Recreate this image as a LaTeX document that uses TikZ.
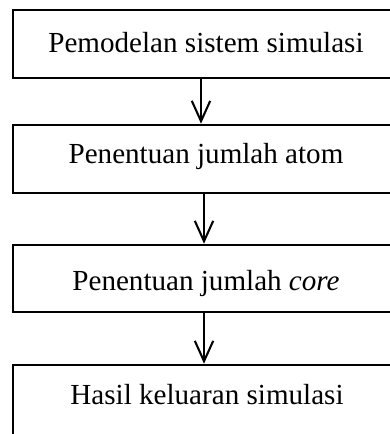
\documentclass[tikz,border=0pt]{standalone}
\usepackage{fontspec}
\setmainfont{Liberation Serif}
\usetikzlibrary{arrows.meta}
\begin{document}
\begin{tikzpicture}[x=0.4124pt,y=-0.4124pt,
  box/.style={draw, line width=1.05pt, rectangle, inner sep=0pt, minimum width=159.2pt},
  txt/.style={font=\fontsize{12}{14}\selectfont, inner sep=0pt, anchor=base},
  arr/.style={line width=0.85pt, -{Straight Barb[length=8.4pt,width=7.6pt,line width=0.85pt]}}]
\useasboundingbox (0,0) rectangle (390,434);
\clip (0,0) rectangle (390,434);
\node[box, minimum height=28.04pt] (b1) at (206,44) {};
\node[box, minimum height=28.04pt] (b2) at (206,159) {};
\node[box, minimum height=27.63pt] (b3) at (206,278.5) {};
\node[box, minimum height=33pt] (b4) at (206,405) {};
\node[txt] (t1) at (206,52.7) {Pemodelan sistem simulasi};
\node[txt] (t2) at (206,163.3) {Penentuan jumlah atom};
\node[txt] (t3) at (206,290.5) {Penentuan jumlah \textit{core}};
\node[txt] (t4) at (207,404.5) {Hasil keluaran simulasi};
\draw[arr] ([xshift=-2.06pt]b1.south) -- ([xshift=-2.06pt]b2.north);
\draw[arr] ([xshift=-0.82pt]b2.south) -- ([xshift=-0.82pt]b3.north);
\draw[arr] ([xshift=-0.82pt]b3.south) -- ([xshift=-0.82pt]b4.north);
\end{tikzpicture}
\end{document}
